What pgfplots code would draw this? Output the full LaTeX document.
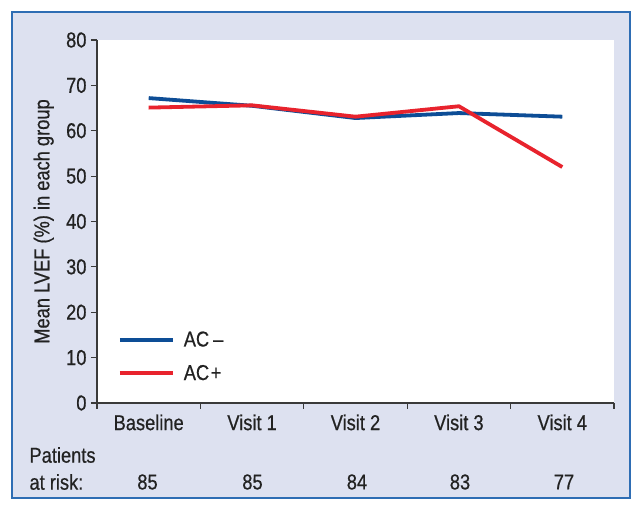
\documentclass[border=0pt]{standalone}
\usepackage{fontspec}
\setmainfont[FakeStretch=0.85,FakeBold=0.6]{Liberation Sans}
\usepackage{pgfplots}
\pgfplotsset{compat=1.18}
\definecolor{acminus}{HTML}{0D4D96}
\definecolor{acplus}{HTML}{E8232D}
\definecolor{panel}{HTML}{DDE1F0}
\definecolor{framecol}{HTML}{2E6DB4}
\definecolor{axisgray}{HTML}{3A3A3A}
\definecolor{txt}{HTML}{222222}
\newcommand{\fs}{\fontsize{21.5bp}{25bp}\selectfont}
\begin{document}
\begin{tikzpicture}[font=\fs,text=txt]
\fill[white] (0bp,0bp) rectangle (643bp,513bp);
\filldraw[fill=panel,draw=framecol,line width=1.5bp] (12bp,15bp) rectangle (630bp,501bp);
\begin{axis}[
  at={(97bp,110bp)}, anchor=south west,
  width=517bp, height=363bp, scale only axis,
  xmin=-0.5, xmax=4.5, ymin=0, ymax=80,
  axis x line=bottom, axis y line=left,
  axis line style={axisgray,line width=1.5bp,-},
  axis background/.style={fill=white},
  xtick={0,1,2,3,4},
  xticklabels={Baseline,Visit 1,Visit 2,Visit 3,Visit 4},
  minor xtick={-0.5,0.5,1.5,2.5,3.5,4.5},
  major x tick style={draw=none},
  ytick={0,10,...,80},
  tick align=outside,
  major tick length=6bp, minor tick length=6bp,
  tick style={axisgray,line width=1.2bp},
  /pgf/number format/assume math mode=true,
  ticklabel style={font=\fs,text=txt},
  xticklabel style={yshift=-2bp},
  yticklabel style={xshift=-1bp},
  ylabel={Mean LVEF (\%) in each group},
  ylabel style={at={(rel axis cs:-0.103,0.5)},anchor=center,rotate=0,font=\fs,text=txt},
  legend cell align=left,
  legend image code/.code={\draw[#1,line width=3.8bp] (0bp,0bp) -- (53bp,0bp);},
  legend style={draw=none,fill=none,at={(rel axis cs:0.0406,0.197)},anchor=north west,
    inner sep=0pt,outer sep=0pt,row sep=17bp,column sep=9bp,
    nodes={inner sep=0pt,font=\fs,text=txt}},
]
\addplot[acminus,line width=3.8bp] coordinates {(0,67.2) (1,65.5) (2,62.8) (3,63.9) (4,63.1)};
\addlegendentry{AC\kern4bp–}
\addplot[acplus,line width=3.8bp] coordinates {(0,65.1) (1,65.6) (2,63.1) (3,65.4) (4,52.0)};
\addlegendentry{AC\kern1.5bp+}
\end{axis}
\node[anchor=west] at (26bp,58bp) {Patients};
\node[anchor=west] at (26bp,31bp) {at risk:};
\foreach \xx/\nn in {147.5/85,252.5/85,357/84,460/83,564/77}
  \node at (\xx bp,31bp) {\nn};
\end{tikzpicture}
\end{document}
